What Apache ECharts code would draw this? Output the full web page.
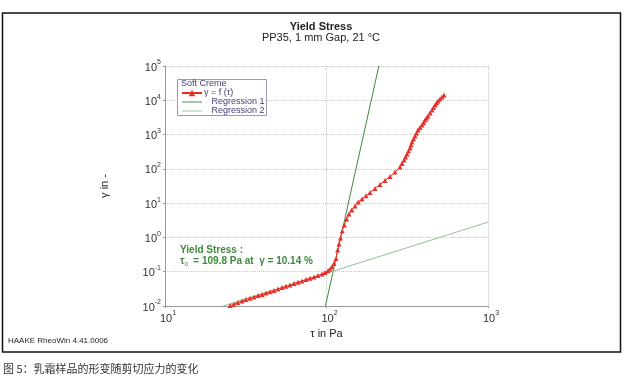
<!DOCTYPE html>
<html><head><meta charset="utf-8">
<script src="https://cdn.jsdelivr.net/npm/echarts@6/dist/echarts.min.js"></script>
<style>html,body{margin:0;padding:0;background:#fff}#c{width:642px;height:379px}</style>
</head><body><div id="c"></div>
<script>
// shear stress tau (Pa) and deformation gamma (-)
const tauValues = [25.3,26.7,28.3,30.0,31.7,33.6,35.6,37.7,39.9,42.2,44.7,47.3,50.1,53.0,56.1,59.4,62.9,66.6,70.5,74.7,79.0,83.7,88.6,93.8,97.9,102.2,105.1,108.2,
  111.3,114.5,117.3,119.5,122.1,125.2,128.9,133.4,137.8,143.2,150.2,157.4,165.9,175.7,185.9,199.6,214.5,230.3,247.4,265.6,285.2,293.4,302.0,308.5,315.1,322.0,328.9,333.6,338.4,345.7,353.2,360.8,368.7,379.3,390.2,398.6,407.3,416.1,425.1,437.5,450.1,459.8,469.8,479.9,490.3,504.5,519.1,534.2];
const gammaValues = [0.01035,0.01127,0.01265,0.01409,0.01549,0.01676,0.01828,0.02009,0.02178,0.02393,0.02612,0.02851,0.03133,0.03437,0.0375,0.04093,0.04498,0.04943,0.05358,0.05888,0.06427,0.07,0.07691,0.0857,0.09419,0.1062,0.1199,0.139,
  0.1734,0.2427,0.4295,0.6427,0.9616,1.538,2.301,3.436,4.808,6.295,8.222,10.77,13.18,16.44,20.37,26.67,34.83,45.6,59.98,80.72,112.8,142.8,180.7,220.9,270.0,330.2,403.6,494.0,604.0,739.6,903.6,1106,1352,1600,1892,2239,2649,3027,3459,4236,5176,6124,7244,8279,9484,10840,12390,14190];
const regression1 = [[98.5, 0.01], [211, 100000]];
const regression2 = [[22.9, 0.01], [1000, 2.8]];
const seriesNames = ['γ = f (τ)', 'Regression 1', 'Regression 2'];
const titleText = 'Yield Stress';
const subTitleText = 'PP35, 1 mm Gap, 21 °C';
const xName = 'τ in Pa';
const yName = 'γ in -';

const chart = echarts.init(document.getElementById('c'), null, {renderer: 'canvas'});
const font = 'Liberation Sans, Arial, sans-serif';
const supFmt = v => '{b|10}{s|' + Math.round(Math.log10(v)) + '}';
const rich = {
  b: {fontSize: 11, fontFamily: font, color: '#333', lineHeight: 14, verticalAlign: 'bottom'},
  s: {fontSize: 7, fontFamily: font, color: '#333', lineHeight: 14, verticalAlign: 'top'}
};
const curve = tauValues.map((t, i) => [t, gammaValues[i]]);
const lineIcon = 'path://M0 0H22V1H0Z';

chart.setOption({
  backgroundColor: '#fff',
  animation: false,
  textStyle: {fontFamily: font},
  title: {
    text: titleText, subtext: subTitleText, left: 'center', top: 17, itemGap: 0,
    textStyle: {fontSize: 11, fontWeight: 'bold', color: '#222', fontFamily: font, lineHeight: 10},
    subtextStyle: {fontSize: 11, color: '#222', fontFamily: font, lineHeight: 10}
  },
  grid: {left: 165, right: 154, top: 66, bottom: 73, containLabel: false},
  legend: {
    orient: 'vertical', left: 181, top: 88.5, itemGap: 0, itemWidth: 20, itemHeight: 8,
    padding: 0, selectedMode: false,
    data: [
      {name: seriesNames[0]},
      {name: seriesNames[1], icon: lineIcon},
      {name: seriesNames[2], icon: lineIcon}
    ],
    formatter: n => n === seriesNames[0] ? n : '   ' + n,
    textStyle: {fontSize: 9, color: '#4a3a72', fontFamily: font, lineHeight: 8, padding: [0, 0, 0, -3]}
  },
  xAxis: {
    type: 'log', logBase: 10, min: 10, max: 1000,
    name: xName, nameLocation: 'middle', nameGap: 20,
    nameTextStyle: {fontSize: 11, color: '#222', fontFamily: font},
    axisLine: {lineStyle: {color: '#999'}},
    axisTick: {show: true, length: 2, inside: false, lineStyle: {color: '#999'}},
    axisLabel: {formatter: supFmt, rich: rich, margin: 4, padding: [0, 0, 0, 6]},
    splitLine: {show: true, lineStyle: {color: '#c8c8c8', type: [1, 1]}}
  },
  yAxis: {
    type: 'log', logBase: 10, min: 0.01, max: 100000,
    name: yName, nameLocation: 'middle', nameGap: 55,
    nameTextStyle: {fontSize: 11, color: '#222', fontFamily: font},
    axisLine: {show: true, lineStyle: {color: '#999'}},
    axisTick: {show: true, length: 2, lineStyle: {color: '#999'}},
    axisLabel: {formatter: supFmt, rich: rich, margin: 4},
    splitLine: {show: true, lineStyle: {color: '#c8c8c8', type: [1, 1]}}
  },
  series: [
    {name: seriesNames[0], type: 'line', data: curve, symbol: 'triangle', symbolSize: 5,
     itemStyle: {color: '#e8302a'}, lineStyle: {color: '#e8302a', width: 1}, z: 5},
    {name: seriesNames[1], type: 'line', data: regression1, symbol: 'none',
     lineStyle: {color: '#3d8a3d', width: 1}, itemStyle: {color: '#3d8a3d'}, z: 3},
    {name: seriesNames[2], type: 'line', data: regression2, symbol: 'none',
     lineStyle: {color: '#8fc48f', width: 1}, itemStyle: {color: '#8fc48f'}, z: 3}
  ],
  graphic: [
    {type: 'rect', shape: {x: 2.5, y: 13, width: 618, height: 339}, style: {fill: 'none', stroke: '#111', lineWidth: 1.5}, silent: true},
    {type: 'rect', shape: {x: 177.5, y: 79.5, width: 89, height: 36}, style: {fill: '#fff', stroke: '#9a9ab8', lineWidth: 1}, z: 2, silent: true},
    {type: 'text', left: 181, top: 79.5, z: 3, style: {text: 'Soft Creme', fontSize: 9, fill: '#4a3a72', fontFamily: font}},
    {type: 'text', left: 180, top: 245, z: 6, style: {
      text: 'Yield Stress :\n{t|τ}{sub|0}{t|  = 109.8 Pa at  γ = 10.14 %}',
      fontSize: 10, fill: '#3d8a3d', fontWeight: 'bold', fontFamily: font, lineHeight: 11,
      rich: {t: {fontSize: 10, fill: '#3d8a3d', fontWeight: 'bold', fontFamily: font, lineHeight: 11},
             sub: {fontSize: 6, fill: '#3d8a3d', fontFamily: font, lineHeight: 11, verticalAlign: 'bottom', padding: [3, 0, 0, 0]}}
    }},
    {type: 'text', left: 8, top: 337, style: {text: 'HAAKE RheoWin 4.41.0006', fontSize: 8, fill: '#222', fontFamily: 'Liberation Sans Narrow, Liberation Sans, Arial'}},
    {type: 'text', left: 3, top: 363, style: {text: '图 5：乳霜样品的形变随剪切应力的变化', fontSize: 11, fill: '#333', fontFamily: 'Noto Sans CJK SC'}}
  ]
});
</script></body></html>
